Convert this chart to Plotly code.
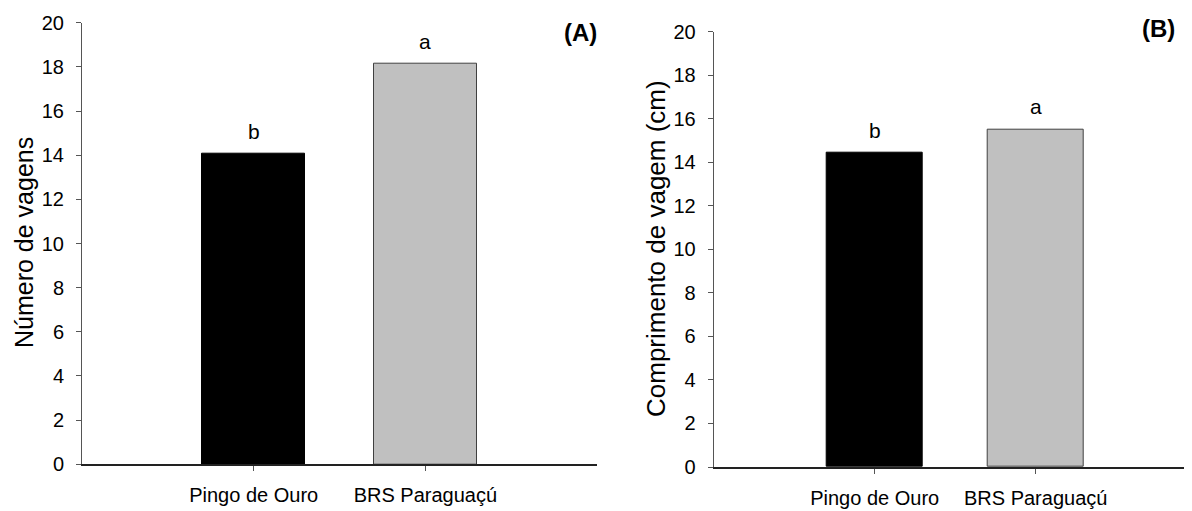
import plotly.graph_objects as go

# ---- data ----
categories = ["Pingo de Ouro", "BRS Paraguaçú"]
numero_vagens = [14.05, 18.14]
comprimento_vagem = [14.45, 15.52]
letters_a = ["b", "a"]
letters_b = ["b", "a"]
bar_colors = ["#000000", "#c0c0c0"]
bar_lines = ["#000000", "#404040"]
y_ticks = [0, 2, 4, 6, 8, 10, 12, 14, 16, 18, 20]

FONT = "Arial, Liberation Sans, sans-serif"

# page body adds an 8 px margin; size the figure to fit the window
OFF = 8
W, H = 1192 - OFF, 511 - OFF


def px(X):
    return (X - OFF) / W


def py(Y):
    return (H - (Y - OFF)) / H


fig = go.Figure()
fig.add_trace(go.Bar(x=categories, y=numero_vagens, width=0.6,
                     marker=dict(color=bar_colors, line=dict(color=bar_lines, width=1)),
                     xaxis="x", yaxis="y", showlegend=False))
fig.add_trace(go.Bar(x=categories, y=comprimento_vagem, width=0.6,
                     marker=dict(color=bar_colors, line=dict(color=bar_lines, width=1)),
                     xaxis="x2", yaxis="y2", showlegend=False))


def xax(domain, rng, anchor):
    return dict(domain=domain, range=rng, anchor=anchor, type="category",
                automargin=False,
                showline=True, linecolor="#222222", linewidth=1.5,
                ticks="outside", ticklen=5, tickcolor="#555555", tickwidth=1,
                showgrid=False, zeroline=False,
                tickfont=dict(family=FONT, size=20, color="#000000"),
                ticklabelstandoff=7, fixedrange=True)


def yax(domain, anchor):
    return dict(domain=domain, range=[0, 20], anchor=anchor,
                automargin=False,
                tickvals=y_ticks, ticktext=[str(v) for v in y_ticks],
                showline=True, linecolor="#555555", linewidth=1,
                ticks="outside", ticklen=5, tickcolor="#555555", tickwidth=1,
                showgrid=False, zeroline=False,
                tickfont=dict(family=FONT, size=20, color="#000000"),
                ticklabelstandoff=8, fixedrange=True)


fig.update_layout(
    template="none",
    width=W, height=H,
    margin=dict(l=0, r=0, t=0, b=0, pad=0),
    paper_bgcolor="white", plot_bgcolor="white",
    bargap=0,
    xaxis=xax([px(82), px(597)], [-1, 2], "y"),
    yaxis=yax([py(464.3), py(22.7)], "x"),
    xaxis2=xax([px(713.7), 1.0], [-1, 1.971], "y2"),
    yaxis2=yax([py(467), py(31.7)], "x2"),
)

annotations = []
for cat, val, lab in zip(categories, numero_vagens, letters_a):
    annotations.append(dict(x=cat, y=val, xref="x", yref="y", text=lab, showarrow=False,
                            yanchor="bottom", yshift=9,
                            font=dict(family=FONT, size=21, color="#000000")))
for cat, val, lab in zip(categories, comprimento_vagem, letters_b):
    annotations.append(dict(x=cat, y=val, xref="x2", yref="y2", text=lab, showarrow=False,
                            yanchor="bottom", yshift=9,
                            font=dict(family=FONT, size=21, color="#000000")))

annotations += [
    dict(text="Número de vagens", x=px(24), y=py(243), xref="paper", yref="paper",
         textangle=-90, showarrow=False, xanchor="center", yanchor="middle",
         borderpad=0,
         font=dict(family=FONT, size=25, color="#000000")),
    dict(text="Comprimento de vagem (cm)", x=px(656), y=py(249), xref="paper", yref="paper",
         textangle=-90, showarrow=False, xanchor="center", yanchor="middle",
         font=dict(family=FONT, size=26, color="#000000")),
    dict(text="<b>(A)</b>", x=px(580), y=py(32), xref="paper", yref="paper",
         showarrow=False, xanchor="center", yanchor="middle",
         font=dict(family=FONT, size=24, color="#000000")),
    dict(text="<b>(B)</b>", x=px(1158), y=py(28.5), xref="paper", yref="paper",
         showarrow=False, xanchor="center", yanchor="middle",
         font=dict(family=FONT, size=24, color="#000000")),
]
fig.update_layout(annotations=annotations)

fig.write_html("out.html", config=dict(displayModeBar=False))
